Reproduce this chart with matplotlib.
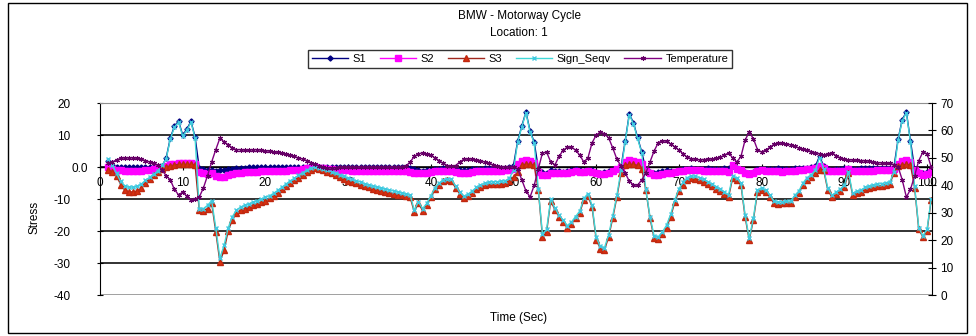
import matplotlib
matplotlib.use('Agg')
import matplotlib.pyplot as plt
import numpy as np
from matplotlib.patches import Rectangle
from matplotlib.transforms import ScaledTranslation

plt.rcParams['font.family'] = ['Liberation Sans', 'DejaVu Sans']

# ---------------- data (sampled every 0.5 s, t = 1.0 ... 100.5) ----------------
time_sec = np.arange(1.0, 101.0, 0.5)

s1 = [
    2.0, 0.5, 0.0, 0.0, 0.0, 0.0, 0.0, 0.0, 0.0, 0.0,
    0.0, 0.0, 0.0, 0.3, 2.8, 9.0, 12.8, 14.3, 10.0, 11.8,
    14.3, 9.3, -0.3, -0.5, -0.8, -1.0, -1.2, -1.0, -0.8, -0.6,
    -0.5, -0.3, -0.2, -0.2, -0.1, -0.1, 0.0, 0.0, 0.0, 0.0,
    0.0, 0.0, 0.0, 0.0, 0.0, 0.0, 0.0, 0.0, 0.0, 0.0,
    0.0, 0.0, 0.0, 0.0, 0.0, 0.0, 0.0, 0.0, 0.0, 0.0,
    0.0, 0.0, 0.0, 0.0, 0.0, 0.0, 0.0, 0.0, 0.0, 0.0,
    0.0, 0.0, 0.0, -0.2, -0.6, -0.9, -1.1, -1.0, -0.8, -0.6,
    -0.5, -0.4, -0.4, -0.5, -0.7, -0.8, -0.9, -0.8, -0.7, -0.6,
    -0.5, -0.4, -0.3, -0.2, -0.2, -0.2, -0.2, -0.1, 0.5, 8.1,
    12.8, 17.2, 11.3, 7.8, -0.5, -1.5, -1.8, -1.0, -1.2, -1.4,
    -1.5, -1.2, -0.8, -0.5, -0.8, -1.2, -0.8, -1.0, -1.5, -1.8,
    -1.6, -1.2, -0.8, -0.5, 0.0, 8.1, 16.6, 13.8, 9.3, 4.7,
    -0.8, -1.5, -1.8, -1.6, -1.2, -1.0, -1.3, -1.5, -1.0, -0.7,
    -0.5, -0.4, -0.5, -0.6, -0.5, -0.4, -0.5, -0.6, -0.5, -0.4,
    -0.3, 0.2, -0.3, -0.8, -1.5, -2.0, -1.5, -0.6, -0.5, -0.6,
    -0.6, -0.5, -0.4, -0.5, -0.6, -0.5, -0.4, -0.3, -0.2, -0.2,
    -0.1, 0.2, 3.4, 0.3, -0.6, -0.8, -0.6, -0.5, -0.4, -0.2,
    -0.6, -0.5, -0.4, -0.4, -0.3, -0.3, -0.3, -0.3, -0.2, -0.2,
    0.0, 8.7, 14.8, 17.2, 8.1, -0.5, -1.5, -1.8, -1.5, -0.8,
]

s2 = [
    0.0, -0.5, -0.8, -1.0, -1.2, -1.3, -1.3, -1.2, -1.1, -1.0,
    -0.8, -0.6, -0.4, -0.2, 0.3, 0.8, 1.0, 1.2, 1.2, 1.2,
    1.2, 1.0, -1.5, -1.8, -2.2, -2.0, -2.8, -3.2, -3.0, -2.5,
    -2.2, -2.0, -1.8, -1.7, -1.6, -1.5, -1.5, -1.4, -1.4, -1.3,
    -1.3, -1.2, -1.2, -1.1, -1.0, -1.0, -0.8, -0.6, -0.4, -0.2,
    0.0, -0.2, -0.4, -0.6, -0.7, -0.8, -0.9, -1.0, -1.0, -1.1,
    -1.1, -1.2, -1.2, -1.2, -1.3, -1.3, -1.3, -1.3, -1.4, -1.4,
    -1.4, -1.4, -1.4, -1.5, -2.0, -1.8, -2.0, -1.8, -1.6, -1.4,
    -1.2, -1.1, -1.1, -1.2, -1.5, -1.8, -2.0, -1.8, -1.6, -1.4,
    -1.3, -1.2, -1.2, -1.1, -1.1, -1.1, -1.0, -0.9, -0.5, 1.0,
    1.8, 2.2, 1.8, 1.2, -1.5, -2.5, -2.5, -1.8, -2.0, -2.0,
    -2.0, -1.8, -1.5, -1.2, -1.5, -1.5, -1.2, -1.5, -2.0, -2.2,
    -2.2, -1.8, -1.2, -0.6, 0.0, 1.5, 2.2, 2.0, 1.5, 1.0,
    -1.2, -2.0, -2.5, -2.5, -2.2, -2.0, -1.8, -1.6, -1.4, -1.2,
    -1.0, -1.0, -1.0, -1.0, -1.1, -1.1, -1.2, -1.2, -1.3, -1.4,
    -1.5, 0.5, -0.5, -1.0, -1.8, -2.2, -1.8, -1.2, -1.0, -1.2,
    -1.3, -1.4, -1.4, -1.5, -1.4, -1.3, -1.1, -1.0, -0.8, -0.6,
    -0.6, -0.4, 0.2, -0.4, -1.2, -1.4, -1.3, -1.2, -1.1, -0.5,
    -1.3, -1.2, -1.2, -1.1, -1.1, -1.1, -1.0, -1.0, -1.0, -0.9,
    -0.5, 1.0, 1.8, 2.2, 1.5, -1.0, -2.0, -2.5, -2.2, -1.5,
]

s3 = [
    -1.0, -1.5, -2.8, -5.5, -7.2, -7.8, -7.8, -7.5, -6.5, -5.0,
    -3.6, -2.6, -1.5, -0.6, 0.0, 0.3, 0.6, 0.8, 0.8, 0.8,
    0.8, 0.6, -13.4, -13.6, -13.0, -11.3, -20.3, -29.7, -26.0, -20.0,
    -16.5, -14.4, -13.4, -13.0, -12.5, -12.0, -11.5, -11.0, -10.5, -9.8,
    -9.0, -8.0, -7.0, -6.0, -5.0, -4.2, -3.3, -2.4, -1.5, -0.8,
    -0.3, -0.6, -1.0, -1.5, -2.0, -2.5, -3.0, -3.6, -4.3, -4.7,
    -5.0, -5.5, -6.0, -6.4, -6.8, -7.2, -7.5, -7.8, -8.0, -8.3,
    -8.6, -8.9, -9.2, -9.5, -14.0, -11.3, -13.6, -11.9, -9.5, -7.0,
    -5.6, -4.5, -4.2, -4.5, -6.5, -8.3, -9.7, -9.0, -8.1, -7.0,
    -6.2, -5.7, -5.4, -5.3, -5.3, -5.2, -5.0, -4.3, -3.1, -1.6,
    0.6, 0.9, 0.8, 0.5, -7.2, -21.9, -20.3, -10.5, -13.4, -15.5,
    -17.2, -19.0, -17.8, -16.0, -14.4, -10.3, -9.0, -12.5, -22.8, -25.5,
    -25.9, -21.9, -15.9, -9.4, -2.0, 0.5, 0.8, 0.8, 0.5, -0.5,
    -7.2, -16.0, -22.2, -22.5, -21.0, -19.0, -15.5, -11.0, -7.5, -5.5,
    -4.0, -3.5, -3.6, -4.0, -4.6, -5.3, -6.0, -6.8, -7.5, -8.5,
    -9.4, -3.4, -4.2, -5.6, -15.6, -22.8, -16.6, -7.8, -7.2, -7.8,
    -9.4, -11.3, -11.6, -11.4, -11.3, -11.3, -9.5, -8.1, -5.6, -4.0,
    -3.1, -2.0, -1.0, -1.0, -7.2, -9.4, -8.5, -7.5, -6.3, -2.0,
    -8.8, -8.2, -7.8, -7.0, -6.5, -6.2, -6.0, -5.8, -5.5, -5.3,
    -1.9, 0.3, 0.6, 0.8, 0.6, -6.5, -19.5, -21.9, -20.0, -10.3,
]

sign_seqv = [
    2.5, 0.5, -2.0, -4.5, -6.0, -6.3, -6.3, -6.0, -5.3, -4.2,
    -3.2, -2.2, -1.2, 0.5, 2.5, 8.7, 12.5, 14.0, 9.7, 11.5,
    14.0, 9.0, -13.0, -13.0, -12.0, -10.5, -19.0, -28.5, -24.5, -19.0,
    -15.5, -13.5, -12.5, -12.0, -11.5, -11.0, -10.5, -10.0, -9.5, -9.0,
    -8.2, -7.3, -6.3, -5.3, -4.3, -3.5, -2.6, -1.8, -1.0, -0.4,
    0.0, -0.3, -0.6, -1.0, -1.5, -2.0, -2.4, -2.9, -3.5, -3.9,
    -4.3, -4.7, -5.2, -5.6, -6.0, -6.3, -6.6, -6.9, -7.2, -7.5,
    -7.8, -8.1, -8.4, -8.7, -13.5, -10.8, -13.0, -11.4, -9.0, -6.5,
    -5.0, -4.0, -3.6, -3.9, -6.0, -7.8, -9.2, -8.5, -7.5, -6.4,
    -5.6, -5.1, -4.8, -4.6, -4.6, -4.5, -4.3, -3.5, -1.0, 7.8,
    12.5, 16.9, 11.0, 7.5, -7.0, -21.0, -19.5, -10.0, -12.8, -15.0,
    -16.6, -18.3, -17.2, -15.5, -13.8, -9.8, -8.3, -12.0, -22.0, -24.8,
    -25.2, -21.2, -15.2, -8.8, -1.0, 7.8, 16.3, 13.5, 9.0, 4.4,
    -7.0, -15.5, -21.5, -21.8, -20.3, -18.2, -14.8, -10.3, -6.8, -4.8,
    -3.3, -2.8, -2.9, -3.3, -3.9, -4.6, -5.3, -6.1, -6.8, -7.8,
    -8.7, -2.8, -3.5, -5.0, -15.0, -22.3, -16.0, -7.2, -6.6, -7.2,
    -8.8, -10.7, -11.0, -10.8, -10.7, -10.7, -8.9, -7.5, -5.0, -3.3,
    -2.4, -1.0, 3.1, -0.5, -6.6, -8.8, -7.9, -6.9, -5.7, -1.5,
    -8.2, -7.6, -7.2, -6.4, -5.9, -5.6, -5.4, -5.2, -4.9, -4.7,
    -1.5, 8.4, 14.5, 16.9, 7.8, -6.0, -19.0, -21.5, -19.5, -10.0,
]

temperature = [
    48.0, 48.5, 49.3, 49.8, 50.0, 50.0, 50.0, 49.8, 49.5, 49.0,
    48.5, 48.0, 47.4, 45.6, 43.5, 42.0, 38.5, 36.5, 37.5, 36.0,
    34.6, 35.0, 35.7, 39.0, 43.5, 48.5, 53.0, 57.2, 55.8, 54.8,
    53.6, 53.0, 53.0, 52.8, 52.8, 53.0, 53.0, 52.8, 52.6, 52.4,
    52.2, 52.0, 51.8, 51.5, 51.0, 50.5, 50.0, 49.6, 49.0, 48.3,
    47.6, 47.0, 46.6, 46.3, 46.3, 46.4, 46.5, 46.5, 46.6, 46.6,
    46.6, 46.6, 46.7, 46.7, 46.7, 46.7, 46.7, 46.8, 46.8, 46.8,
    46.8, 46.8, 47.0, 48.5, 50.5, 51.5, 51.8, 51.5, 51.0, 50.0,
    49.0, 48.0, 47.2, 47.0, 47.2, 48.5, 49.5, 49.6, 49.6, 49.3,
    49.0, 48.5, 48.0, 47.5, 47.0, 46.8, 46.7, 46.6, 46.6, 46.0,
    42.0, 38.0, 35.7, 40.0, 46.0, 51.8, 52.1, 48.5, 47.4, 50.5,
    52.8, 53.8, 54.0, 52.8, 51.0, 48.5, 50.0, 55.5, 58.3, 59.4,
    58.8, 57.3, 53.6, 49.5, 47.0, 44.5, 41.5, 40.1, 40.0, 42.0,
    44.5, 48.5, 52.5, 55.5, 56.3, 56.0, 55.0, 54.0, 52.8, 51.5,
    50.2, 49.7, 49.5, 49.3, 49.4, 49.5, 49.6, 49.8, 50.2, 51.0,
    51.8, 50.0, 48.5, 50.5, 56.5, 59.4, 57.0, 53.0, 52.1, 52.9,
    53.8, 55.0, 55.4, 55.3, 55.0, 54.8, 54.2, 53.6, 53.2, 52.8,
    52.3, 51.9, 51.5, 51.0, 51.5, 51.8, 50.8, 50.0, 49.5, 49.2,
    49.2, 49.1, 49.0, 49.0, 48.8, 48.5, 48.3, 48.1, 48.0, 48.0,
    47.5, 46.7, 42.0, 35.7, 38.5, 43.5, 49.0, 52.1, 51.5, 46.7,
]

x_ticks = [0, 10, 20, 30, 40, 50, 60, 70, 80, 90, 100]
stress_ticks = [-40, -30, -20, -10, 0, 10, 20]
stress_tick_labels = ["-40", "-30", "-20", "-10", "0.0", "10", "20"]
temp_ticks = [0, 10, 20, 30, 40, 50, 60, 70]
series_names = ["S1", "S2", "S3", "Sign_Seqv", "Temperature"]

# ---------------- figure ----------------
W, H = 976, 336
fig = plt.figure(figsize=(W / 100, H / 100), dpi=100)
fig.patch.set_facecolor('white')

ax = fig.add_axes([100 / W, 41 / H, 832 / W, 192 / H])
ax2 = ax.twinx()

h1, = ax.plot(time_sec, s1, color='#000080', lw=1.0, marker='D', ms=2.6,
              mfc='#000080', mec='#000080', zorder=3)
h2, = ax.plot(time_sec, s2, color='#FF00FF', lw=1.0, marker='s', ms=4.4,
              mfc='#FF00FF', mec='#FF00FF', zorder=3)
h3, = ax.plot(time_sec, s3, color='#A0281E', lw=1.0, marker='^', ms=4.6,
              mfc='#D8300F', mec='#C02810', zorder=3)
h4, = ax.plot(time_sec, sign_seqv, color='#40D8D8', lw=1.0, marker='x', ms=3.4,
              mec='#40C8E0', mew=1.0, zorder=4)
h5, = ax2.plot(time_sec, temperature, color='#800080', lw=1.0, marker=(6, 2, 0),
               ms=3.6, mec='#660066', mew=0.8, zorder=3)

ax.set_xlim(0, 100.6)
ax.set_ylim(-40, 20)
ax2.set_ylim(0, 70)

ax.set_xticks(x_ticks)
ax.set_xticklabels([str(v) for v in x_ticks])
ax.set_yticks(stress_ticks)
ax.set_yticklabels(stress_tick_labels)
ax2.set_yticks(temp_ticks)
ax2.set_yticklabels([str(v) for v in temp_ticks])

# grid lines (extremes grey like the plot-area border)
ax.yaxis.grid(True, color='#222222', lw=1.3)
ax.set_axisbelow(True)
for tk, val in zip(ax.yaxis.get_major_ticks(), stress_ticks):
    if val in (stress_ticks[0], stress_ticks[-1]):
        tk.gridline.set_color('#909090')
        tk.gridline.set_linewidth(1.2)

# spines
ax.spines['bottom'].set_position(('data', 0))
ax.spines['bottom'].set_color('black')
ax.spines['bottom'].set_linewidth(1.0)
ax.spines['top'].set_color('#909090')
ax.spines['left'].set_color('black')
ax.spines['right'].set_visible(False)
for sp in ('top', 'bottom', 'left'):
    ax2.spines[sp].set_visible(False)
ax2.spines['right'].set_color('black')

ax.tick_params(axis='x', direction='inout', length=4, labelsize=8.5, pad=5,
               colors='black')
ax.tick_params(axis='y', direction='inout', length=5, labelsize=8.5, pad=19)
ax2.tick_params(axis='y', direction='inout', length=6, labelsize=8.5, pad=3)

# Excel placed the zero label closer to the axis
zero_lbl = ax.get_yticklabels()[stress_ticks.index(0)]
zero_lbl.set_transform(zero_lbl.get_transform() +
                       ScaledTranslation(18 / 100, 0, fig.dpi_scale_trans))

# titles and axis titles
fig.text(519 / W, 1 - 16 / H, "BMW - Motorway Cycle", ha='center', va='center', fontsize=8.5)
fig.text(519 / W, 1 - 33 / H, "Location: 1", ha='center', va='center', fontsize=8.5)
fig.text(35 / W, 1 - 217 / H, "Stress", rotation=90, ha='center', va='center', fontsize=8.5)
fig.text(519 / W, 1 - 318 / H, "Time (Sec)", ha='center', va='center', fontsize=8.5)

# legend
leg = fig.legend([h1, h2, h3, h4, h5], series_names, loc='center',
                 bbox_to_anchor=(520 / W, 1 - 59 / H), ncol=5, frameon=True,
                 fancybox=False, edgecolor='black', fontsize=8,
                 handlelength=3.3, columnspacing=1.2, handletextpad=0.4,
                 borderpad=0.35, borderaxespad=0)
leg.get_frame().set_linewidth(1.0)

# chart-area border
fig.patches.append(Rectangle((8 / W, 3 / H), (967 - 8) / W, (333 - 3) / H,
                             transform=fig.transFigure, fill=False,
                             edgecolor='black', lw=1.0))

fig.savefig('out.png', dpi=100)
